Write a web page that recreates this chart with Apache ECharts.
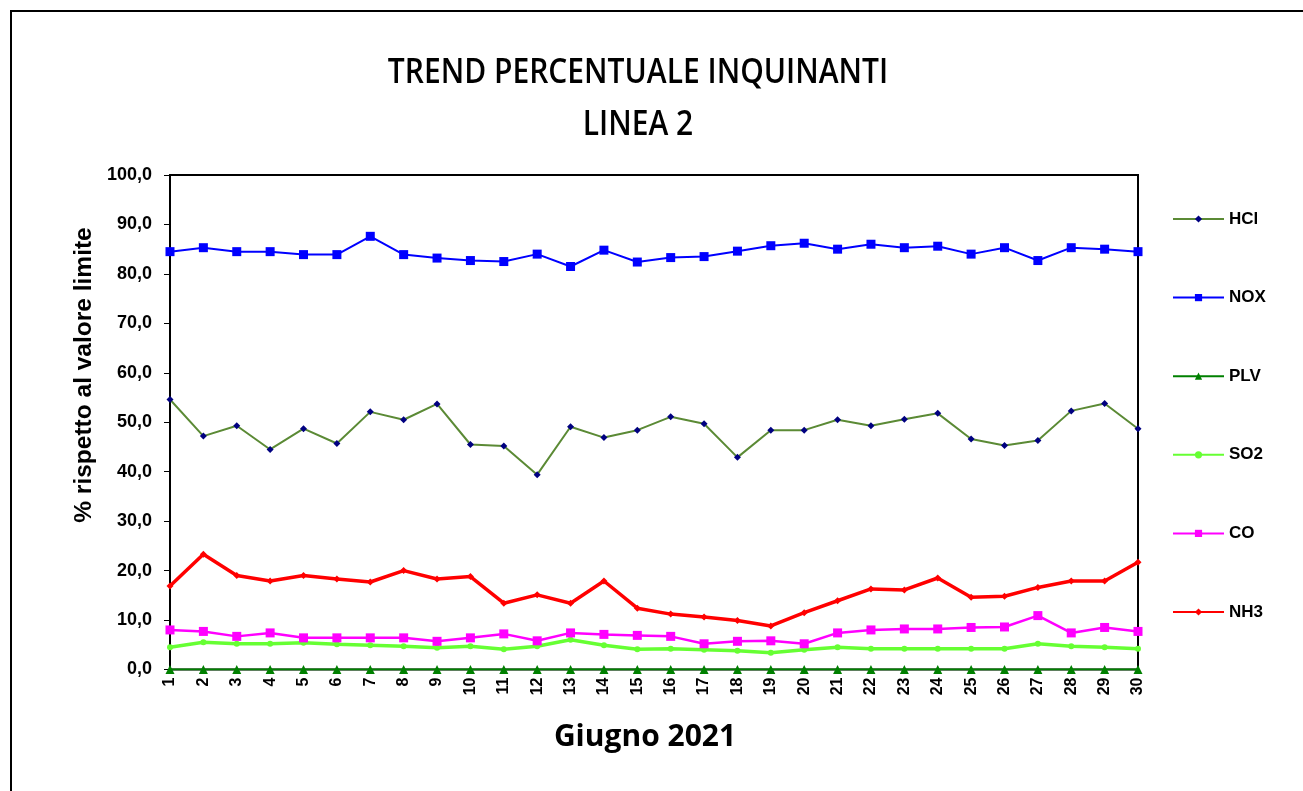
<!DOCTYPE html>
<html>
<head>
<meta charset="utf-8">
<title>Trend percentuale inquinanti - Linea 2</title>
<script src="https://cdn.jsdelivr.net/npm/echarts@6/dist/echarts.min.js"></script>
<style>
  html, body { margin: 0; padding: 0; background: #fff; }
  #main { width: 1303px; height: 791px; }
</style>
</head>
<body>
<div id="main"></div>
<script>
// giorni di giugno 2021
var days = [];
for (var d = 1; d <= 30; d++) days.push(String(d));

// valori (% rispetto al valore limite)
var hcl = [54.6, 47.2, 49.3, 44.5, 48.7, 45.7, 52.1, 50.5, 53.7, 45.5,
           45.2, 39.4, 49.1, 46.9, 48.4, 51.1, 49.7, 42.9, 48.4, 48.4,
           50.5, 49.3, 50.6, 51.8, 46.6, 45.3, 46.3, 52.3, 53.8, 48.7];
var nox = [84.5, 85.3, 84.5, 84.5, 83.9, 83.9, 87.6, 83.9, 83.2, 82.7,
           82.5, 84.0, 81.5, 84.8, 82.4, 83.3, 83.5, 84.6, 85.7, 86.2,
           85.0, 86.0, 85.3, 85.6, 84.0, 85.3, 82.7, 85.3, 85.0, 84.5];
var plv = [0, 0, 0, 0, 0, 0, 0, 0, 0, 0,
           0, 0, 0, 0, 0, 0, 0, 0, 0, 0,
           0, 0, 0, 0, 0, 0, 0, 0, 0, 0];
var so2 = [4.5, 5.5, 5.2, 5.2, 5.4, 5.1, 4.9, 4.7, 4.4, 4.7,
           4.1, 4.7, 6.0, 4.9, 4.1, 4.2, 4.0, 3.8, 3.4, 4.0,
           4.5, 4.2, 4.2, 4.2, 4.2, 4.2, 5.2, 4.7, 4.5, 4.2];
var co = [8.0, 7.7, 6.7, 7.4, 6.4, 6.4, 6.4, 6.4, 5.7, 6.4,
          7.2, 5.8, 7.4, 7.1, 6.9, 6.7, 5.2, 5.7, 5.8, 5.2,
          7.4, 8.0, 8.2, 8.2, 8.5, 8.6, 10.9, 7.4, 8.5, 7.7];
var nh3 = [16.9, 23.3, 19.0, 17.9, 19.0, 18.3, 17.7, 20.0, 18.3, 18.8,
           13.4, 15.1, 13.4, 17.9, 12.4, 11.2, 10.6, 9.9, 8.8, 11.5,
           13.9, 16.3, 16.1, 18.5, 14.6, 14.8, 16.6, 17.9, 17.9, 21.7];

var myChart = echarts.init(document.getElementById('main'));

function serie(name, data, color, width, symbol, size, markerColor) {
  return {
    name: name,
    type: 'line',
    data: data,
    symbol: symbol,
    symbolSize: size,
    showAllSymbol: true,
    lineStyle: { color: color, width: width },
    itemStyle: { color: markerColor || color },
    emphasis: { disabled: true },
    animation: false
  };
}

var option = {
  backgroundColor: '#fff',
  textStyle: { fontFamily: 'Liberation Sans, Arial, sans-serif' },
  graphic: [
    // cornice esterna
    {
      type: 'rect',
      shape: { x: 11, y: 11, width: 1300, height: 800 },
      style: { fill: 'none', stroke: '#000', lineWidth: 2 },
      silent: true
    },
    {
      type: 'text',
      x: 638,
      y: 73,
      scaleY: 1.15,
      style: {
        text: 'TREND PERCENTUALE INQUINANTI',
        font: '600 30px "Open Sans", sans-serif',
        fill: '#000',
        align: 'center',
        verticalAlign: 'middle'
      }
    },
    {
      type: 'text',
      x: 638,
      y: 125,
      scaleY: 1.15,
      style: {
        text: 'LINEA 2',
        font: '600 30px "Open Sans", sans-serif',
        fill: '#000',
        align: 'center',
        verticalAlign: 'middle'
      }
    },
    {
      type: 'text',
      x: 84,
      y: 375,
      rotation: Math.PI / 2,
      style: {
        text: '% rispetto al valore limite',
        font: 'bold 24.5px "Liberation Sans", Arial, sans-serif',
        fill: '#000',
        align: 'center',
        verticalAlign: 'middle'
      }
    },
    {
      type: 'text',
      x: 645,
      y: 737,
      style: {
        text: 'Giugno 2021',
        font: 'bold 30px "Open Sans", sans-serif',
        fill: '#000',
        align: 'center',
        verticalAlign: 'middle'
      }
    }
  ],
  legend: {
    orient: 'vertical',
    left: 1167,
    top: 205,
    itemWidth: 51,
    itemHeight: 9,
    itemGap: 60.6,
    textStyle: { fontSize: 17, fontWeight: 'bold', color: '#000', lineHeight: 18 },
    data: ['HCl', 'NOX', 'PLV', 'SO2', 'CO', 'NH3']
  },
  grid: {
    left: 170,
    top: 175,
    right: 165,
    bottom: 121.5,
    show: true,
    borderColor: '#000',
    borderWidth: 2,
    backgroundColor: 'transparent'
  },
  xAxis: {
    type: 'category',
    boundaryGap: false,
    data: days,
    axisLine: { lineStyle: { color: '#000', width: 1 } },
    axisTick: { show: true, length: 4, lineStyle: { color: '#000' } },
    axisLabel: {
      rotate: 90,
      interval: 0,
      margin: 8,
      fontSize: 16,
      fontWeight: 'bold',
      color: '#000'
    },
    splitLine: { show: false }
  },
  yAxis: {
    type: 'value',
    min: 0,
    max: 100,
    interval: 10,
    axisLine: { show: true, lineStyle: { color: '#000', width: 1 } },
    axisTick: { show: true, length: 6, lineStyle: { color: '#000' } },
    axisLabel: {
      margin: 18,
      fontSize: 18,
      fontWeight: 'bold',
      color: '#000',
      formatter: function (v) { return v.toFixed(1).replace('.', ','); }
    },
    splitLine: { show: false }
  },
  series: [
    serie('HCl', hcl, '#5b8a35', 2, 'diamond', 7, '#000080'),
    serie('NOX', nox, '#0000ff', 2, 'rect', 9),
    serie('PLV', plv, '#008000', 2, 'triangle', 9),
    serie('SO2', so2, '#66ff33', 3.5, 'circle', 6),
    serie('CO', co, '#ff00ff', 2.5, 'rect', 9),
    serie('NH3', nh3, '#ff0000', 3.5, 'diamond', 7)
  ]
};

option && myChart.setOption(option);
</script>
</body>
</html>
